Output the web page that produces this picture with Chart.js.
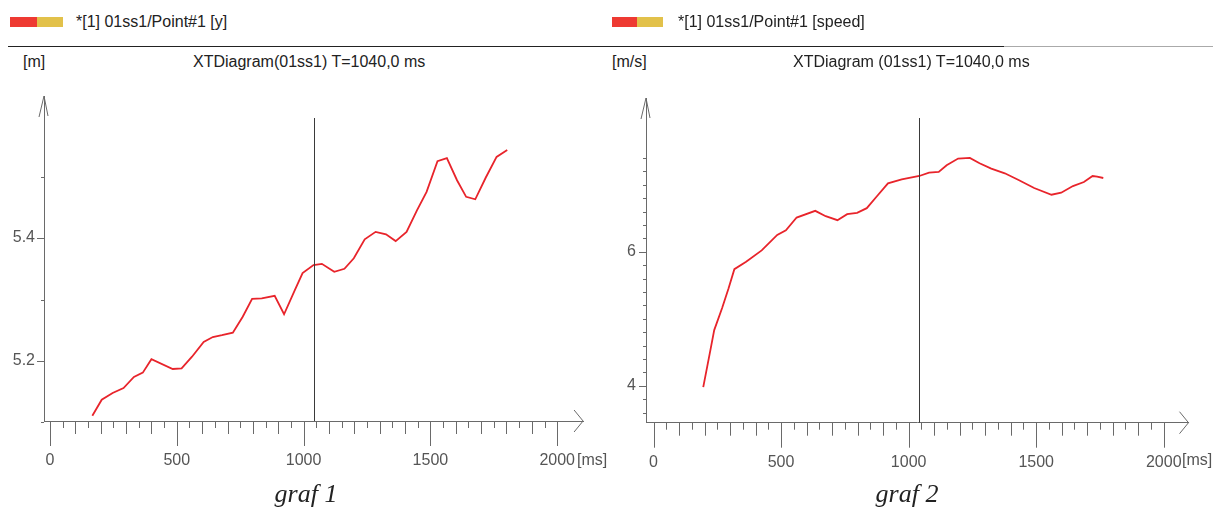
<!DOCTYPE html>
<html>
<head>
<meta charset="utf-8">
<script src="https://cdn.jsdelivr.net/npm/chart.js@4.4.1/dist/chart.umd.min.js"></script>
<style>
  body { margin: 0; width: 1213px; height: 510px; background: #fff; position: relative; overflow: hidden;
         font-family: "Liberation Sans", Arial, sans-serif; color: #222; }
  .swatch { position: absolute; top: 17px; height: 10px; }
  .legend { position: absolute; top: 13px; font-size: 16px; line-height: 18px; white-space: nowrap; }
  .rule { position: absolute; top: 46px; height: 1px; }
  .unit, .title { position: absolute; top: 53px; font-size: 16px; line-height: 18px; white-space: nowrap; }
  .caption { position: absolute; top: 480px; font-family: "Liberation Serif", "Times New Roman", serif;
             font-style: italic; font-size: 26px; line-height: 28px; transform: translateX(-50%); }
  .ms { position: absolute; top: 451px; font-size: 16px; line-height: 18px; color: #555; }
  canvas { position: absolute; top: 0; }
</style>
</head>
<body>
  <div class="swatch" style="left:10px;width:27px;background:#ee3a32"></div>
  <div class="swatch" style="left:37px;width:26px;background:#e2c14a"></div>
  <div class="legend" style="left:76px">*[1] 01ss1/Point#1 [y]</div>
  <div class="rule" style="left:8px;width:602px;background:#222"></div>
  <div class="unit" style="left:23px">[m]</div>
  <div class="title" style="left:193px">XTDiagram(01ss1) T=1040,0 ms</div>
  <canvas id="chart1" width="606" height="510" style="left:0"></canvas>
  <div class="ms" style="left:577px">[ms]</div>
  <div class="caption" style="left:306px">graf 1</div>

  <div class="swatch" style="left:612px;width:25px;background:#ee3a32"></div>
  <div class="swatch" style="left:637px;width:26px;background:#e2c14a"></div>
  <div class="legend" style="left:678px">*[1] 01ss1/Point#1 [speed]</div>
  <div class="rule" style="left:604px;width:400px;background:#222"></div>
  <div class="rule" style="left:1004px;width:209px;background:#aaa"></div>
  <div class="unit" style="left:612px">[m/s]</div>
  <div class="title" style="left:793px">XTDiagram (01ss1) T=1040,0 ms</div>
  <canvas id="chart2" width="607" height="510" style="left:606px"></canvas>
  <div class="ms" style="left:1182px">[ms]</div>
  <div class="caption" style="left:907px">graf 2</div>

<script>
// graf 1: position y [m] over time [ms]
const time1 = [167, 204, 247, 290, 331, 366, 400, 484, 519, 560, 606, 642, 678, 721, 760, 797, 835, 886, 923, 965,
               996, 1039, 1072, 1121, 1161, 1198, 1241, 1284, 1325, 1363, 1406, 1447, 1485, 1528, 1565, 1605, 1641, 1677, 1718, 1761, 1803];
const posY = [5.111, 5.137, 5.148, 5.156, 5.174, 5.181, 5.203, 5.187, 5.188, 5.207, 5.231, 5.239, 5.242, 5.246, 5.272, 5.301, 5.302, 5.306, 5.276, 5.315,
              5.343, 5.356, 5.358, 5.345, 5.350, 5.367, 5.398, 5.410, 5.406, 5.395, 5.410, 5.445, 5.475, 5.525, 5.530, 5.494, 5.467, 5.463, 5.498, 5.532, 5.543];

// graf 2: speed [m/s] over time [ms]
const time2 = [195, 223, 238, 269, 294, 317, 363, 424, 485, 519, 561, 634, 675, 721, 759, 798, 836, 874, 919, 973,
               1042, 1080, 1118, 1149, 1194, 1240, 1278, 1324, 1377, 1431, 1492, 1560, 1598, 1644, 1687, 1721, 1739, 1763];
const speed = [3.98, 4.53, 4.83, 5.16, 5.45, 5.74, 5.85, 6.02, 6.25, 6.32, 6.51, 6.61, 6.53, 6.47, 6.56, 6.58, 6.65, 6.82, 7.02, 7.08,
               7.13, 7.18, 7.19, 7.29, 7.39, 7.40, 7.32, 7.24, 7.17, 7.07, 6.95, 6.85, 6.88, 6.98, 7.04, 7.13, 7.12, 7.10];

const xLabels = [0, 500, 1000, 1500, 2000];
const yTicks1 = [5.1, 5.2, 5.3, 5.4, 5.5];
const yLabels1 = [5.2, 5.4];
const yTicks2 = [3.6, 3.8, 4.0, 4.2, 4.4, 4.6, 4.8, 5.0, 5.2, 5.4, 5.6, 5.8, 6.0, 6.2, 6.4, 6.6, 6.8, 7.0, 7.2, 7.4];
const yLabels2 = [4, 6];
const cursorTime = 1040;

const axisColor = "#6a6a6a";
const labelFont = { family: "'Liberation Sans', Arial, sans-serif", size: 16 };

// arrows, tick marks and time cursor (XT diagram look)
const xtAxes = {
  id: "xtAxes",
  afterDraw(chart, args, opts) {
    const ctx = chart.ctx;
    const area = chart.chartArea;
    const xs = chart.scales.x, ys = chart.scales.y;
    ctx.save();
    ctx.strokeStyle = axisColor;
    ctx.lineWidth = 1;
    ctx.beginPath();
    // x ticks every 50 ms
    for (let t = 0; t <= 2000; t += 50) {
      const px = Math.round(xs.getPixelForValue(t)) + 0.5;
      const len = t % 500 === 0 ? 25 : (t % 100 === 0 ? 13 : 7);
      ctx.moveTo(px, area.bottom);
      ctx.lineTo(px, area.bottom + len);
    }
    // y ticks
    opts.yTicks.forEach(v => {
      const py = Math.round(ys.getPixelForValue(v)) + 0.5;
      const major = opts.yLabels.some(l => Math.abs(l - v) < 1e-6);
      ctx.moveTo(area.left, py);
      ctx.lineTo(area.left - (major ? 7 : 3), py);
    });
    // arrow heads
    ctx.moveTo(area.left - 5, area.top + 21);
    ctx.lineTo(area.left, area.top);
    ctx.lineTo(area.left + 4, area.top + 20);
    ctx.moveTo(area.right - 9, area.bottom - 11);
    ctx.lineTo(area.right, area.bottom);
    ctx.lineTo(area.right - 9, area.bottom + 11);
    ctx.stroke();

    // cursor at T = 1040 ms
    const cx = Math.round(xs.getPixelForValue(cursorTime)) + 0.5;
    ctx.strokeStyle = "#3a3a3a";
    ctx.beginPath();
    ctx.moveTo(cx, 118);
    ctx.lineTo(cx, area.bottom);
    ctx.stroke();
    ctx.restore();
  }
};

function makeChart(id, times, values, cfg) {
  return new Chart(document.getElementById(id), {
    type: "line",
    data: {
      datasets: [{
        data: times.map((t, i) => ({ x: t, y: values[i] })),
        borderColor: "#e8242b",
        borderWidth: 1.8,
        pointRadius: 0,
        tension: 0
      }]
    },
    options: {
      responsive: false,
      animation: false,
      layout: { padding: { top: cfg.top, right: cfg.right, left: 0, bottom: 0 } },
      plugins: {
        legend: { display: false },
        tooltip: { enabled: false },
        xtAxes: { yTicks: cfg.yTicks, yLabels: cfg.yLabels }
      },
      scales: {
        x: {
          type: "linear",
          min: cfg.xMin,
          max: cfg.xMax,
          grid: { display: false, drawTicks: false },
          border: { display: true, color: axisColor, width: 1 },
          afterBuildTicks: s => { s.ticks = xLabels.map(v => ({ value: v })); },
          afterFit: s => { s.height = cfg.xAxisHeight; },
          ticks: { color: "#555", font: labelFont, padding: 30, maxRotation: 0, autoSkip: false, callback: v => String(v) }
        },
        y: {
          type: "linear",
          min: cfg.yMin,
          max: cfg.yMax,
          grid: { display: false, drawTicks: false },
          border: { display: true, color: axisColor, width: 1 },
          afterBuildTicks: s => { s.ticks = cfg.yLabels.map(v => ({ value: v })); },
          afterFit: s => { s.width = cfg.yAxisWidth; },
          ticks: { color: "#555", font: labelFont, padding: cfg.yPad, autoSkip: false, callback: v => String(v) }
        }
      }
    },
    plugins: [xtAxes]
  });
}

makeChart("chart1", time1, posY, {
  top: 96, right: 21, xMin: -23.6, xMax: 2102, yMin: 5.1024, yMax: 5.631,
  xAxisHeight: 89, yAxisWidth: 44, yPad: 9, yTicks: yTicks1, yLabels: yLabels1
});

makeChart("chart2", time2, speed, {
  top: 98, right: 24.5, xMin: -29.4, xMax: 2097, yMin: 3.448, yMax: 8.294,
  xAxisHeight: 87.3, yAxisWidth: 40, yPad: 10, yTicks: yTicks2, yLabels: yLabels2
});
</script>
</body>
</html>
